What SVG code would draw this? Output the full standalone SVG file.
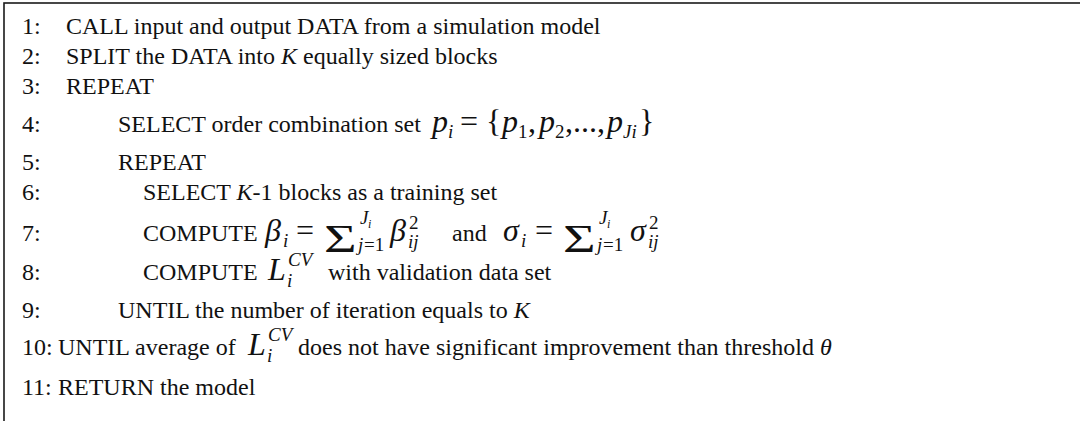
<svg xmlns="http://www.w3.org/2000/svg" width="1080" height="421" viewBox="0 0 1080 421">
<style>
.t{font-family:"Liberation Serif","Times New Roman",serif;font-size:24px;fill:#111}
.i{font-style:italic}
.m{font-family:"Liberation Serif","Times New Roman",serif;font-style:italic;font-size:32px;fill:#111}
.u{font-family:"Liberation Serif","Times New Roman",serif;font-size:32px;fill:#111}
.s{font-family:"Liberation Serif","Times New Roman",serif;font-style:italic;font-size:19px;fill:#111}
.su{font-family:"Liberation Serif","Times New Roman",serif;font-size:19px;fill:#111}
.ss{font-family:"Liberation Serif","Times New Roman",serif;font-style:italic;font-size:12px;fill:#111}
.big{font-family:"Liberation Serif","Times New Roman",serif;font-size:40px;fill:#111}
</style>
<rect x="4" y="3" width="1100" height="440" fill="#fff" stroke="#1a1a1a" stroke-width="1.6"/>
<g id="line1"><text class="t" x="22" y="34">1:</text><text class="t" x="66" y="34">CALL input and output DATA from a simulation model</text></g>
<g id="line2"><text class="t" x="22" y="64">2:</text><text class="t" x="66" y="64">SPLIT the DATA into <tspan class="i">K</tspan> equally sized blocks</text></g>
<g id="line3"><text class="t" x="22" y="94">3:</text><text class="t" x="66" y="94">REPEAT</text></g>
<g id="line4"><text class="t" x="22" y="132">4:</text><text class="t" x="118" y="132">SELECT order combination set</text>
<text class="m" x="432" y="132">p</text><text class="s" x="448" y="138">i</text>
<text class="u" x="460" y="132">=</text><text class="u" x="486" y="132">{</text>
<text class="m" x="502" y="132">p</text><text class="su" x="518" y="138">1</text><text class="u" x="528" y="132">,</text>
<text class="m" x="539" y="132">p</text><text class="su" x="555" y="138">2</text><text class="u" x="565" y="132">,...,</text>
<text class="m" x="607" y="132">p</text><text class="s" x="623" y="138">Ji</text><text class="u" x="639" y="132">}</text></g>
<g id="line5"><text class="t" x="22" y="170">5:</text><text class="t" x="118" y="170">REPEAT</text></g>
<g id="line6"><text class="t" x="22" y="200">6:</text><text class="t" x="143" y="200">SELECT <tspan class="i">K</tspan>-1 blocks as a training set</text></g>
<g id="line7"><text class="t" x="22" y="241">7:</text><text class="t" x="143" y="241">COMPUTE</text>
<text class="m" x="265" y="241">β</text><text class="s" x="283" y="247">i</text>
<text class="u" x="296" y="241">=</text>
<text class="big" transform="translate(324,252) scale(1.4,1)" x="0" y="0">Σ</text>
<text class="s" x="360" y="224">J</text><text class="ss" x="368" y="228">i</text>
<text class="s" x="358" y="251">j</text><text class="su" x="364" y="251">=1</text>
<text class="m" x="390" y="241">β</text><text class="s" x="408" y="248">ij</text><text class="su" x="409" y="229">2</text>
<text class="t" x="452" y="241">and</text>
<text class="m" x="503" y="241">σ</text><text class="s" x="521" y="247">i</text>
<text class="u" x="535" y="241">=</text>
<text class="big" transform="translate(563,252) scale(1.4,1)" x="0" y="0">Σ</text>
<text class="s" x="599" y="224">J</text><text class="ss" x="607" y="228">i</text>
<text class="s" x="597" y="251">j</text><text class="su" x="603" y="251">=1</text>
<text class="m" x="630" y="241">σ</text><text class="s" x="648" y="248">ij</text><text class="su" x="649" y="229">2</text></g>
<g id="line8"><text class="t" x="22" y="280">8:</text><text class="t" x="143" y="280">COMPUTE</text>
<text class="m" x="268" y="280">L</text><text class="s" x="288" y="266">CV</text><text class="s" x="287" y="287">i</text>
<text class="t" x="328" y="280">with validation data set</text></g>
<g id="line9"><text class="t" x="22" y="318">9:</text><text class="t" x="118" y="318">UNTIL the number of iteration equals to <tspan class="i">K</tspan></text></g>
<g id="line10"><text class="t" x="22" y="355">10:</text><text class="t" x="58" y="355">UNTIL average of</text>
<text class="m" x="248" y="355">L</text><text class="s" x="268" y="341">CV</text><text class="s" x="267" y="362">i</text>
<text class="t" x="298" y="355">does not have significant improvement than threshold <tspan class="i">θ</tspan></text></g>
<g id="line11"><text class="t" x="22" y="395">11:</text><text class="t" x="58" y="395">RETURN the model</text></g>
</svg>
